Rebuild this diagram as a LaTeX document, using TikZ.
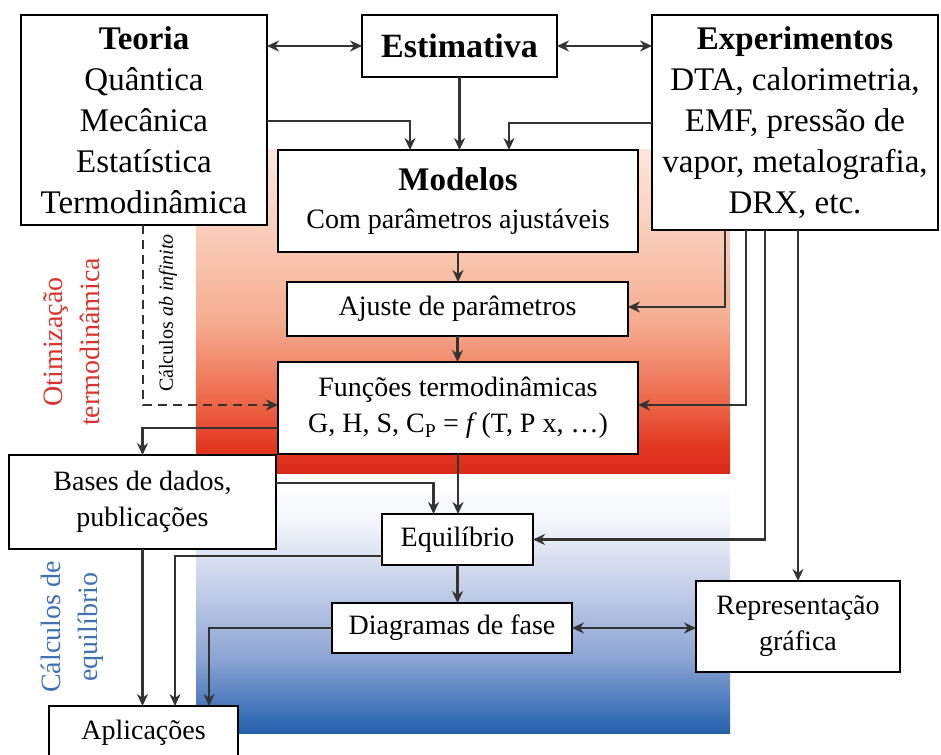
\documentclass[tikz,border=0pt]{standalone}
\usepackage{fontspec}
\setmainfont{Liberation Serif}
\usetikzlibrary{arrows.meta}
\definecolor{lnc}{HTML}{333333}
\definecolor{redtxt}{HTML}{D9332B}
\definecolor{bluetxt}{HTML}{3F72B3}
\definecolor{rA}{HTML}{DA2A1B}
\definecolor{rB}{HTML}{E23A22}
\definecolor{rC}{HTML}{EE6A4C}
\definecolor{rD}{HTML}{F5AD91}
\definecolor{rE}{HTML}{FAD0BD}
\definecolor{rF}{HTML}{FCE6DC}
\definecolor{bA}{HTML}{2462AC}
\definecolor{bB}{HTML}{4F7DBF}
\definecolor{bC}{HTML}{8AA3D2}
\definecolor{bD}{HTML}{BAC7E5}
\definecolor{bE}{HTML}{E0E5F3}
\definecolor{bF}{HTML}{F5F6FA}
\pgfdeclareverticalshading{redsh}{100bp}{color(0bp)=(rA); color(25bp)=(rA); color(29.5bp)=(rB); color(36.5bp)=(rC); color(48.5bp)=(rD); color(63.5bp)=(rE); color(75bp)=(rF); color(100bp)=(rF)}
\pgfdeclareverticalshading{bluesh}{100bp}{color(0bp)=(bA); color(25bp)=(bA); color(31.5bp)=(bB); color(39.5bp)=(bC); color(51.5bp)=(bD); color(61.5bp)=(bE); color(67.5bp)=(bF); color(75bp)=(white); color(100bp)=(white)}
\begin{document}
\begin{tikzpicture}[x=1pt,y=-1pt,
  box/.style={draw=black,line width=2.2pt,fill=white,inner sep=0pt,outer sep=0pt,align=center,text=black},
  big/.style={font=\fontsize{33}{41}\selectfont},
  norm/.style={font=\fontsize{28}{36}\selectfont},
  arr/.style={draw=lnc,line width=2.2pt,-{Stealth[length=12pt,width=11pt]}},
  arrb/.style={draw=lnc,line width=2.2pt,{Stealth[length=12pt,width=11pt]}-{Stealth[length=12pt,width=11pt]}},
  side/.style={rotate=90,align=center,font=\fontsize{28}{37}\selectfont}
]
\useasboundingbox (0,0) rectangle (941,754);
% backgrounds
\shade[shading=redsh] (196,150) rectangle (730,473);
\shade[shading=bluesh] (196,482) rectangle (730,733);

% boxes
\node[box,big,minimum width=246pt,minimum height=210pt] (teoria) at (144,120)
  {\textbf{Teoria}\\Quântica\\Mecânica\\Estatística\\Termodinâmica};
\node[box,font=\fontsize{34}{41}\selectfont\bfseries,minimum width=195pt,minimum height=62pt] (estim) at (459.5,46) {Estimativa};
\node[box,big,minimum width=286pt,minimum height=215pt] (exp) at (795,122.5)
  {\textbf{Experimentos}\\DTA, calorimetria,\\EMF, pressão de\\vapor, metalografia,\\DRX, etc.};
\node[box,font=\fontsize{28}{38}\selectfont,minimum width=360pt,minimum height=102pt] (modelos) at (458,201)
  {{\fontsize{33}{38}\selectfont\bfseries Modelos}\\Com parâmetros ajustáveis};
\node[box,norm,minimum width=341pt,minimum height=54pt] (ajuste) at (457.5,309) {Ajuste de parâmetros};
\node[box,norm,minimum width=360pt,minimum height=92pt] (funcoes) at (458,408)
  {Funções termodinâmicas\\G, H, S, C\textsubscript{P} = \textit{f}\,(T, P x, …)};
\node[box,norm,minimum width=267pt,minimum height=94pt] (bases) at (142.5,502) {Bases de dados,\\publicações};
\node[box,norm,minimum width=151pt,minimum height=51pt] (equil) at (457.5,539.5) {Equilíbrio};
\node[box,norm,minimum width=240pt,minimum height=50pt] (diag) at (452,628) {Diagramas de fase};
\node[box,norm,minimum width=204pt,minimum height=91pt] (repr) at (798,626.5) {Representação\\gráfica};
\node[box,norm,minimum width=189pt,minimum height=64pt] (apl) at (143.5,738) {};
\node[norm] (apltxt) at (143.5,733) {Aplicações};

% side labels
\node[side,text=redtxt] (otim) at (72,342) {Otimização\\termodinâmica};
\node[side,text=bluetxt] (calc) at (72,627) {Cálculos de\\equilíbrio};
\node[rotate=90,font=\fontsize{20}{24}\selectfont,text=black] (abinf) at (168,313) {Cálculos \textit{ab infinito}};

% connectors
\draw[arrb] (teoria.east |- estim.west) -- (estim.west);
\draw[arrb] (estim.east) -- (exp.west |- estim.east);
\draw[arr] ([yshift=-1pt]teoria.east) -| ([xshift=-48pt]modelos.north);
\draw[arr] (estim.south) -- (estim.south |- modelos.north);
\draw[arr] ([yshift=-0.5pt]exp.west) -| ([xshift=51pt]modelos.north);
\draw[arr] (modelos.south) -- (modelos.south |- ajuste.north);
\draw[arr] (ajuste.south) -- (ajuste.south |- funcoes.north);
\draw[arr] ([xshift=-70pt]exp.south) |- ([yshift=2pt]ajuste.east);
\draw[arr] ([xshift=-49pt]exp.south) |- ([yshift=3pt]funcoes.east);
\draw[arr] ([xshift=-30pt]exp.south) |- (equil.east);
\draw[arr] (repr.north |- exp.south) -- (repr.north);
\draw[arr,dashed,dash pattern=on 9pt off 6pt] ([xshift=-1pt]teoria.south) |- ([yshift=3pt]funcoes.west);
\draw[arr] ([yshift=-20pt]funcoes.west) -| (bases.north);
\draw[arr] (funcoes.south) -- (funcoes.south |- equil.north);
\draw[arr] ([yshift=19pt]bases.east) -| ([xshift=-24pt]equil.north);
\draw[arr] (equil.south) -- (equil.south |- diag.north);
\draw[arrb] (diag.east) -- (diag.east -| repr.west);
\draw[arr] (bases.south) -- (bases.south |- apl.north);
\draw[arr] ([yshift=-16.5pt]equil.west) -| ([xshift=31.5pt]apl.north);
\draw[arr] (diag.west) -| ([xshift=65.5pt]apl.north);
\end{tikzpicture}
\end{document}
